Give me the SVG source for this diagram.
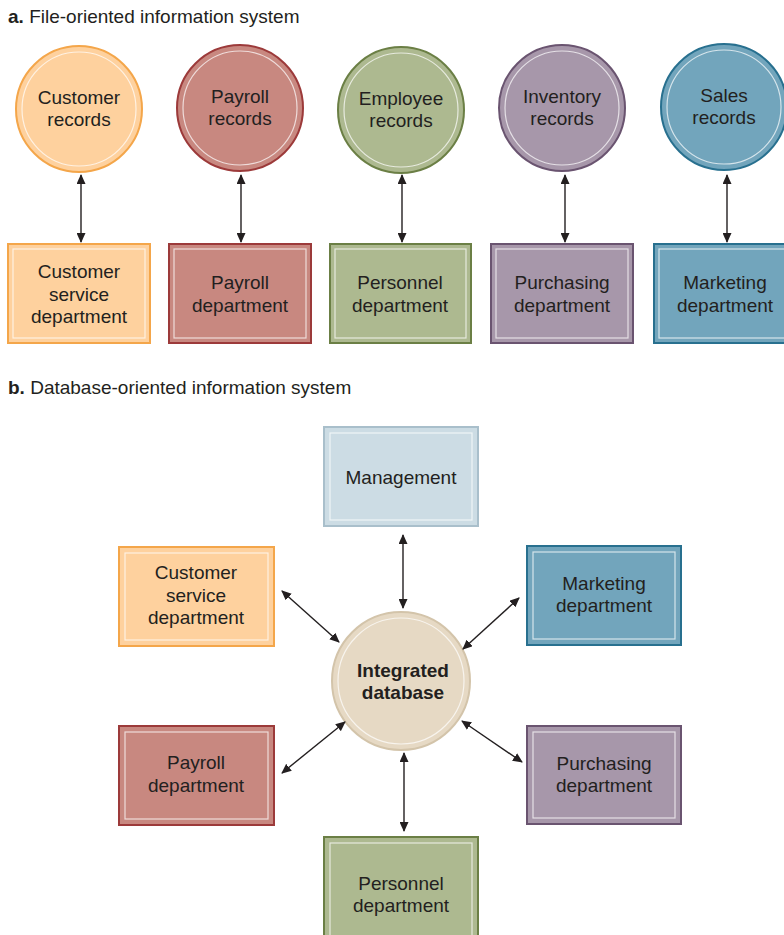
<svg xmlns="http://www.w3.org/2000/svg" width="784" height="935" viewBox="0 0 784 935">
<style>
text{font-family:"Liberation Sans",Arial,sans-serif;font-size:19px;fill:#231f20;text-anchor:middle}
.title{font-size:19px;text-anchor:start}
.inner{fill:none;stroke:#fff;stroke-opacity:.7;stroke-width:1.2}
.c1{fill:#fed19e;stroke:#f4a64a;stroke-width:2}
.c2{fill:#c88880;stroke:#9c3a3a;stroke-width:2}
.c3{fill:#adb990;stroke:#6b7f45;stroke-width:2}
.c4{fill:#a797aa;stroke:#6a5470;stroke-width:2}
.c5{fill:#72a5bc;stroke:#28708f;stroke-width:2}
.c6{fill:#ccdce4;stroke:#a9bfcb;stroke-width:2}
.c7{fill:#e6d9c4;stroke:#d3c4aa;stroke-width:2}
.con line{stroke:#231f20;stroke-width:1.4;marker-start:url(#ah);marker-end:url(#ah)}
</style>
<defs>
<marker id="ah" viewBox="0 0 10 10" refX="9" refY="5" markerWidth="10" markerHeight="9" markerUnits="userSpaceOnUse" orient="auto-start-reverse" preserveAspectRatio="none">
<path d="M0,0 L10,5 L0,10 z" fill="#231f20"/>
</marker>
</defs>

<text class="title" x="8" y="23"><tspan font-weight="bold">a.</tspan> File-oriented information system</text>
<text class="title" x="8" y="394"><tspan font-weight="bold">b.</tspan> Database-oriented information system</text>

<!-- part a circles -->
<g id="a-customer-records"><circle class="c1" cx="79" cy="109" r="63"/><circle class="inner" cx="79" cy="109" r="57"/><text x="79" y="104">Customer</text><text x="79" y="126">records</text></g>
<g id="a-payroll-records"><circle class="c2" cx="240" cy="108" r="63"/><circle class="inner" cx="240" cy="108" r="57"/><text x="240" y="103">Payroll</text><text x="240" y="125">records</text></g>
<g id="a-employee-records"><circle class="c3" cx="401" cy="110" r="63"/><circle class="inner" cx="401" cy="110" r="57"/><text x="401" y="105">Employee</text><text x="401" y="127">records</text></g>
<g id="a-inventory-records"><circle class="c4" cx="562" cy="108" r="63"/><circle class="inner" cx="562" cy="108" r="57"/><text x="562" y="103">Inventory</text><text x="562" y="125">records</text></g>
<g id="a-sales-records"><circle class="c5" cx="724" cy="107" r="63"/><circle class="inner" cx="724" cy="107" r="57"/><text x="724" y="102">Sales</text><text x="724" y="124">records</text></g>

<!-- part a rects -->
<g id="a-customer-service"><rect class="c1" x="8" y="244" width="142" height="99"/><rect class="inner" x="13" y="249" width="132" height="89"/><text x="79" y="278">Customer</text><text x="79" y="301">service</text><text x="79" y="323">department</text></g>
<g id="a-payroll-dept"><rect class="c2" x="169" y="244" width="142" height="99"/><rect class="inner" x="174" y="249" width="132" height="89"/><text x="240" y="289">Payroll</text><text x="240" y="312">department</text></g>
<g id="a-personnel-dept"><rect class="c3" x="330" y="244" width="141" height="99"/><rect class="inner" x="335" y="249" width="131" height="89"/><text x="400" y="289">Personnel</text><text x="400" y="312">department</text></g>
<g id="a-purchasing-dept"><rect class="c4" x="491" y="244" width="142" height="99"/><rect class="inner" x="496" y="249" width="132" height="89"/><text x="562" y="289">Purchasing</text><text x="562" y="312">department</text></g>
<g id="a-marketing-dept"><rect class="c5" x="654" y="244" width="142" height="99"/><rect class="inner" x="659" y="249" width="132" height="89"/><text x="725" y="289">Marketing</text><text x="725" y="312">department</text></g>

<!-- part b -->
<g id="b-management"><rect class="c6" x="324" y="427" width="154" height="99"/><rect class="inner" x="330" y="433" width="142" height="87"/><text x="401" y="484">Management</text></g>
<g id="b-customer-service"><rect class="c1" x="119" y="547" width="155" height="99"/><rect class="inner" x="125" y="553" width="143" height="87"/><text x="196" y="579">Customer</text><text x="196" y="602">service</text><text x="196" y="624">department</text></g>
<g id="b-marketing"><rect class="c5" x="527" y="546" width="154" height="99"/><rect class="inner" x="533" y="552" width="142" height="87"/><text x="604" y="590">Marketing</text><text x="604" y="612">department</text></g>
<g id="b-database"><circle class="c7" cx="401" cy="681" r="69"/><circle class="inner" cx="401" cy="681" r="63"/><text x="403" y="677" font-weight="bold">Integrated</text><text x="403" y="699" font-weight="bold">database</text></g>
<g id="b-payroll"><rect class="c2" x="119" y="726" width="155" height="99"/><rect class="inner" x="125" y="732" width="143" height="87"/><text x="196" y="769">Payroll</text><text x="196" y="792">department</text></g>
<g id="b-purchasing"><rect class="c4" x="527" y="726" width="154" height="98"/><rect class="inner" x="533" y="732" width="142" height="86"/><text x="604" y="770">Purchasing</text><text x="604" y="792">department</text></g>
<g id="b-personnel"><rect class="c3" x="324" y="837" width="154" height="110"/><rect class="inner" x="330" y="843" width="142" height="98"/><text x="401" y="890">Personnel</text><text x="401" y="912">department</text></g>

<g id="connectors" class="con">
<line x1="81" y1="175" x2="81" y2="242"/>
<line x1="241" y1="175" x2="241" y2="242"/>
<line x1="402" y1="175" x2="402" y2="242"/>
<line x1="565" y1="175" x2="565" y2="242"/>
<line x1="727" y1="175" x2="727" y2="242"/>
<line x1="403" y1="535" x2="403" y2="608"/>
<line x1="282" y1="591" x2="339" y2="642"/>
<line x1="519" y1="598" x2="463" y2="649"/>
<line x1="282" y1="773" x2="345" y2="722"/>
<line x1="462" y1="721" x2="522" y2="762"/>
<line x1="404" y1="753" x2="404" y2="831"/>
</g>
</svg>
